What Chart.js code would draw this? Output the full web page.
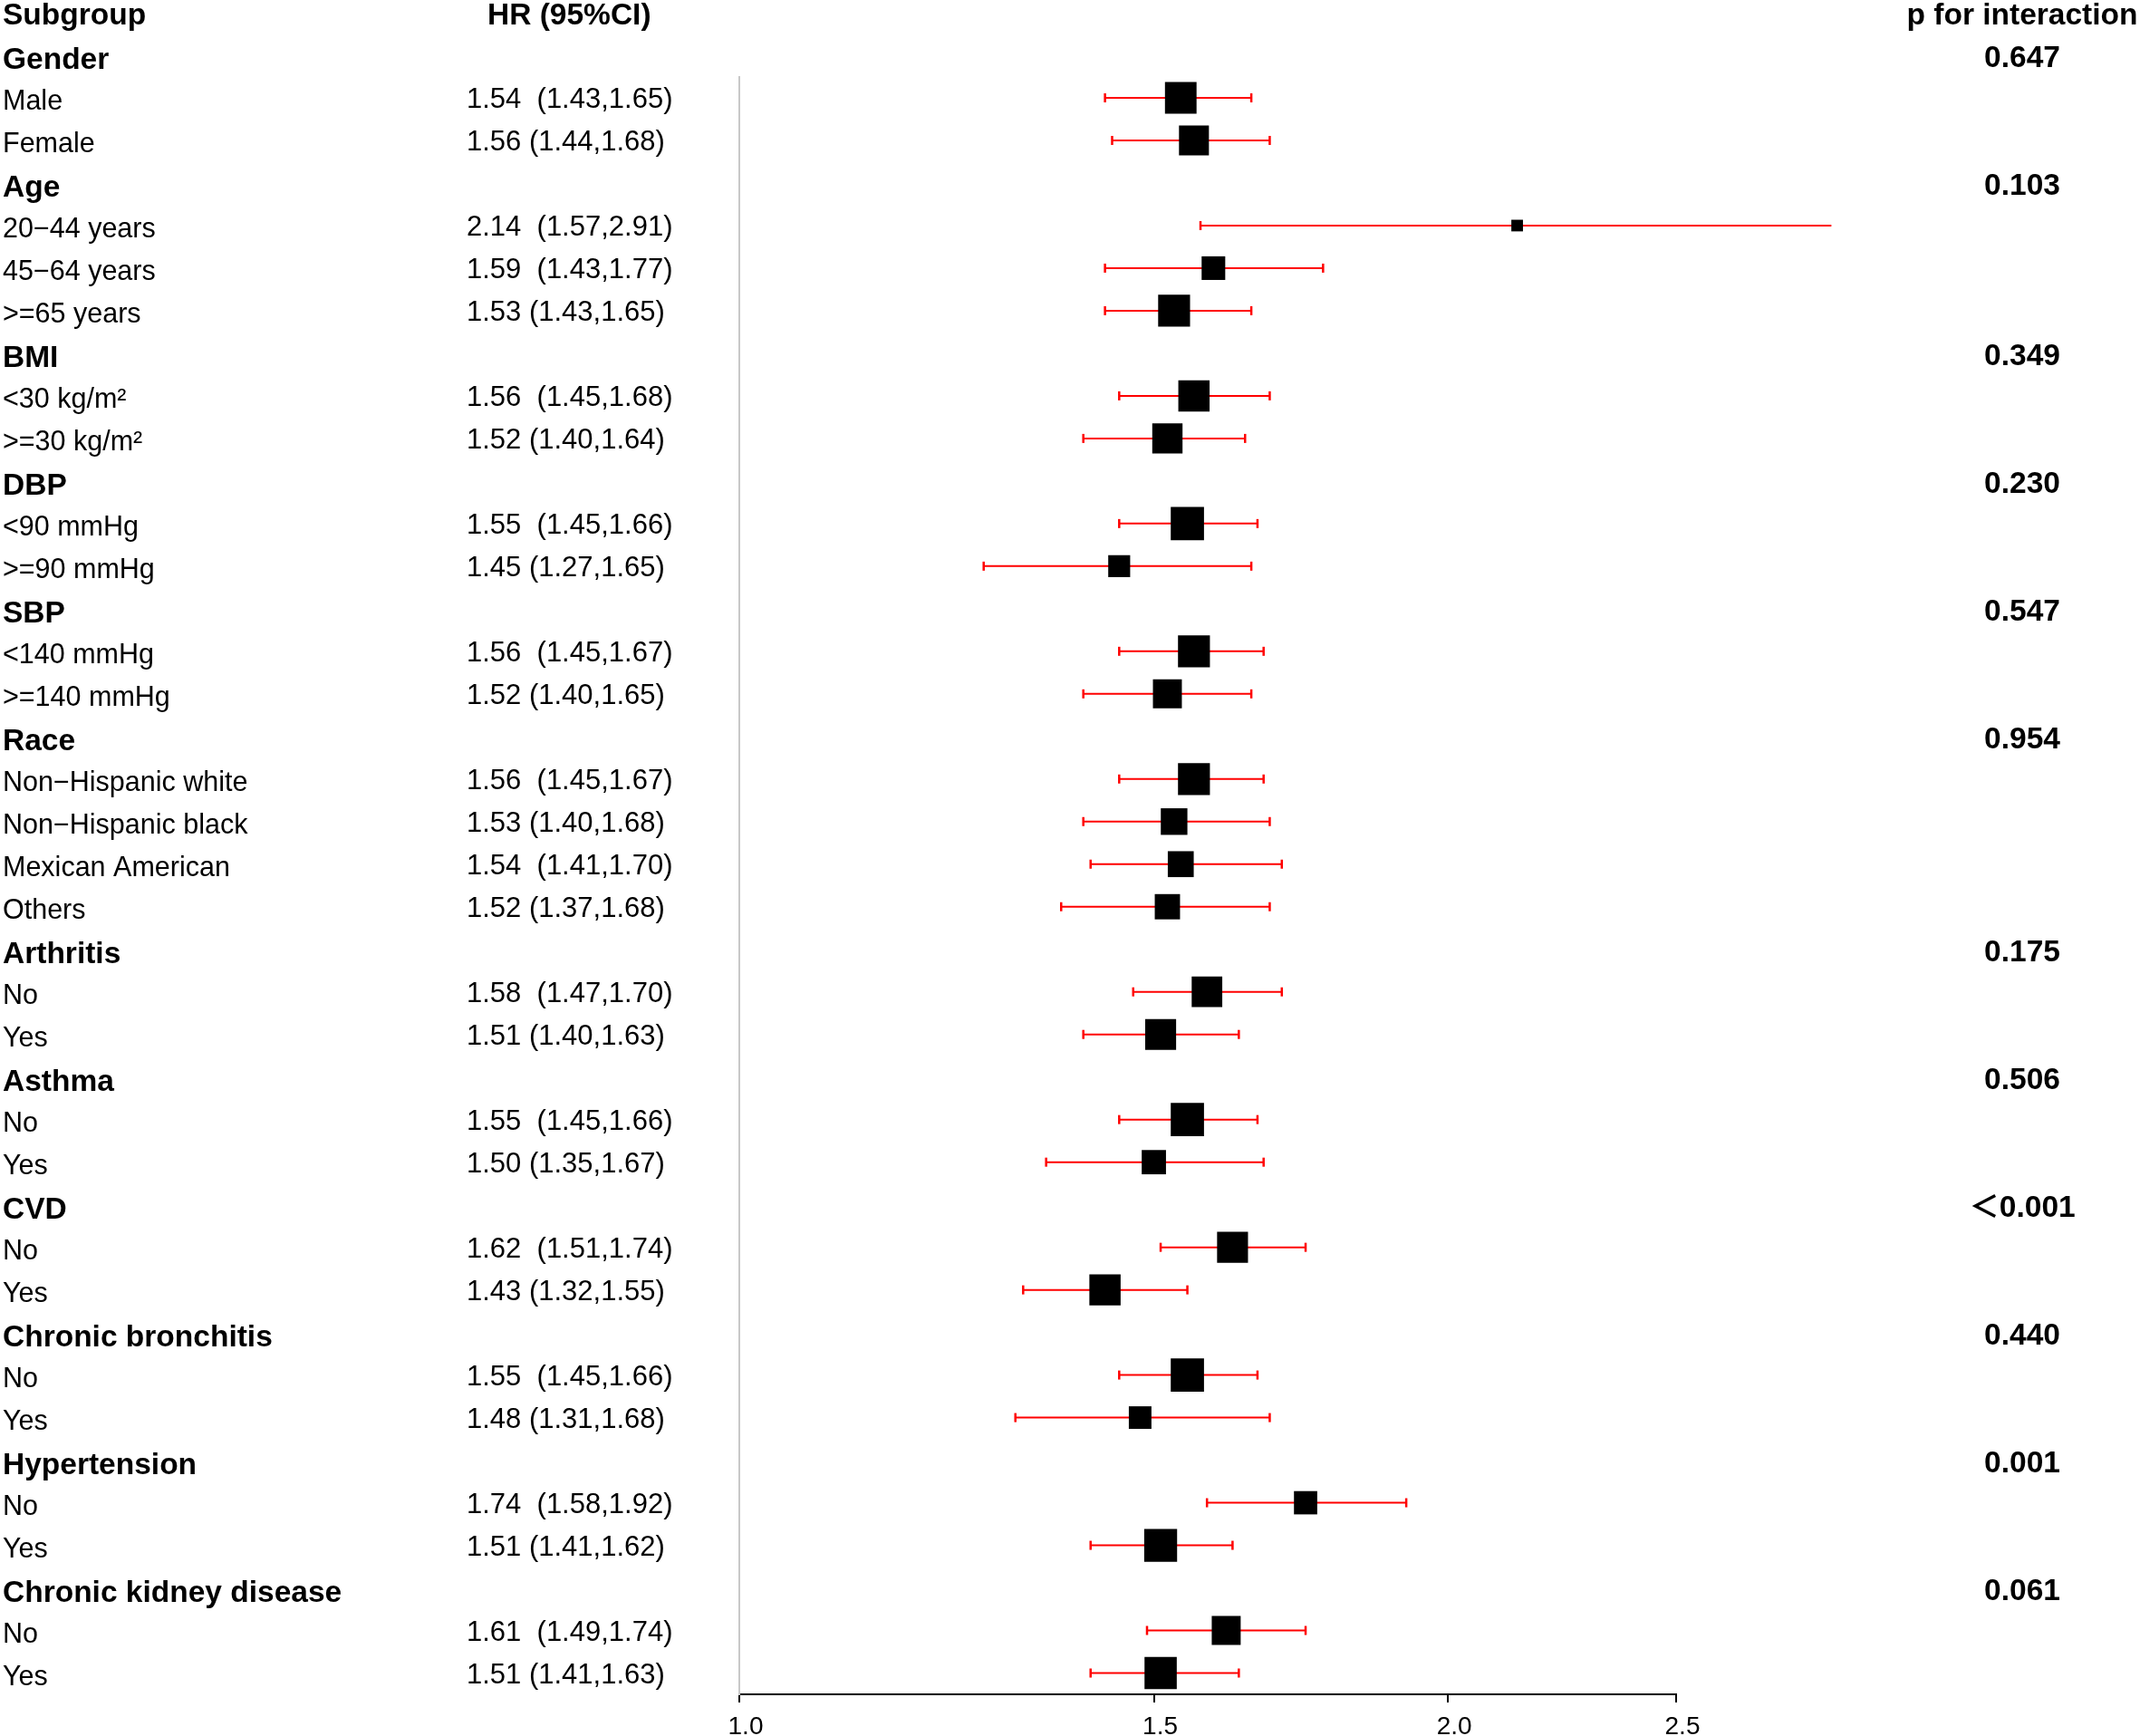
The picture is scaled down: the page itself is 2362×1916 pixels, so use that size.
<!DOCTYPE html>
<html>
<head>
<meta charset="utf-8">
<script src="https://cdn.jsdelivr.net/npm/chart.js@4.4.1/dist/chart.umd.min.js"></script>
<style>
  html, body { margin: 0; padding: 0; background: #ffffff; }
  canvas { display: block; }
</style>
</head>
<body>
<canvas id="c" width="2362" height="1916" style="width:2362px;height:1916px"></canvas>
<script>
// ---------- DATA ----------
const headerTexts = ["Subgroup", "HR (95%CI)", "p for interaction"];
const rowLabels = ["Gender","Male","Female","Age","20\u221244 years","45\u221264 years",">=65 years","BMI","<30 kg/m\u00B2",">=30 kg/m\u00B2","DBP","<90 mmHg",">=90 mmHg","SBP","<140 mmHg",">=140 mmHg","Race","Non\u2212Hispanic white","Non\u2212Hispanic black","Mexican American","Others","Arthritis","No","Yes","Asthma","No","Yes","CVD","No","Yes","Chronic bronchitis","No","Yes","Hypertension","No","Yes","Chronic kidney disease","No","Yes"];
const hr    = [null,1.54,1.56,null,2.14,1.59,1.53,null,1.56,1.52,null,1.55,1.45,null,1.56,1.52,null,1.56,1.53,1.54,1.52,null,1.58,1.51,null,1.55,1.50,null,1.62,1.43,null,1.55,1.48,null,1.74,1.51,null,1.61,1.51];
const lower = [null,1.43,1.44,null,1.57,1.43,1.43,null,1.45,1.40,null,1.45,1.27,null,1.45,1.40,null,1.45,1.40,1.41,1.37,null,1.47,1.40,null,1.45,1.35,null,1.51,1.32,null,1.45,1.31,null,1.58,1.41,null,1.49,1.41];
const upper = [null,1.65,1.68,null,2.91,1.77,1.65,null,1.68,1.64,null,1.66,1.65,null,1.67,1.65,null,1.67,1.68,1.70,1.68,null,1.70,1.63,null,1.66,1.67,null,1.74,1.55,null,1.66,1.68,null,1.92,1.62,null,1.74,1.63];
const hrText = ["","1.54  (1.43,1.65)","1.56 (1.44,1.68)","","2.14  (1.57,2.91)","1.59  (1.43,1.77)","1.53 (1.43,1.65)","","1.56  (1.45,1.68)","1.52 (1.40,1.64)","","1.55  (1.45,1.66)","1.45 (1.27,1.65)","","1.56  (1.45,1.67)","1.52 (1.40,1.65)","","1.56  (1.45,1.67)","1.53 (1.40,1.68)","1.54  (1.41,1.70)","1.52 (1.37,1.68)","","1.58  (1.47,1.70)","1.51 (1.40,1.63)","","1.55  (1.45,1.66)","1.50 (1.35,1.67)","","1.62  (1.51,1.74)","1.43 (1.32,1.55)","","1.55  (1.45,1.66)","1.48 (1.31,1.68)","","1.74  (1.58,1.92)","1.51 (1.41,1.62)","","1.61  (1.49,1.74)","1.51 (1.41,1.63)"];
const pValues = ["0.647","","","0.103","","","","0.349","","","0.230","","","0.547","","","0.954","","","","","0.175","","","0.506","","","\uFF1C0.001","","","0.440","","","0.001","","","0.061","",""];
// relative box weights
const weights = [null,0.95,0.90,null,0.35,0.71,0.96,null,0.94,0.91,null,1.00,0.66,null,0.96,0.87,null,0.96,0.80,0.78,0.76,null,0.92,0.93,null,1.00,0.73,null,0.93,0.94,null,1.00,0.68,null,0.70,0.99,null,0.87,0.97];
const xTicks = [1.0, 1.5, 2.0, 2.5];
const xTickLabels = ["1.0", "1.5", "2.0", "2.5"];

// ---------- STYLE ----------
const FONT = "'Liberation Sans', Arial, Helvetica, 'Noto Sans CJK SC', sans-serif";
const BOX_MAX = 36.7;
const RED = '#ff0000';

// ---------- BUILD DATASETS ----------
const datasets = [];
rowLabels.forEach((lab, i) => {
  if (hr[i] === null) return;
  const k = i + 1;
  datasets.push({
    type: 'scatter',
    showLine: true,
    data: [{x: lower[i], y: k}, {x: upper[i], y: k}],
    borderColor: RED,
    borderWidth: 2,
    pointStyle: 'line',
    rotation: 90,
    pointRadius: 5,
    pointBorderColor: RED,
    pointBorderWidth: 2.5,
    pointHoverRadius: 5,
    clip: false,
    order: 2
  });
});
const pts = [], radii = [];
rowLabels.forEach((lab, i) => {
  if (hr[i] === null) return;
  pts.push({x: hr[i], y: i + 1});
  radii.push(weights[i] * BOX_MAX / Math.SQRT2);
});
datasets.push({
  type: 'scatter',
  data: pts,
  pointStyle: 'rect',
  pointRadius: radii,
  pointHoverRadius: radii,
  backgroundColor: '#000000',
  pointBackgroundColor: '#000000',
  pointBorderWidth: 0,
  clip: false,
  order: 0
});

// ---------- TEXT PLUGIN ----------
const textPlugin = {
  id: 'forestText',
  afterDraw(chart) {
    const ctx = chart.ctx;
    const y = chart.scales.y;
    ctx.save();
    ctx.fillStyle = '#000000';
    ctx.textBaseline = 'alphabetic';
    // header row
    const y0 = y.getPixelForValue(0);
    ctx.font = "bold 33.5px " + FONT;
    ctx.textAlign = 'left';
    ctx.fillText(headerTexts[0], 3, y0 + 13);
    ctx.fillText(headerTexts[1], 538, y0 + 13);
    ctx.textAlign = 'center';
    ctx.fillText(headerTexts[2], 2232, y0 + 13);
    rowLabels.forEach((lab, i) => {
      const py = y.getPixelForValue(i + 1);
      const isHead = hr[i] === null;
      ctx.textAlign = 'left';
      ctx.font = (isHead ? "bold 33.5px " : "30.5px ") + FONT;
      ctx.fillText(lab, 3, py + (isHead ? 15 : 13.5));
      if (hrText[i]) {
        ctx.font = "31px " + FONT;
        ctx.fillText(hrText[i], 515, py + 11.5);
      }
      if (pValues[i]) {
        ctx.font = "bold 33.5px " + FONT;
        ctx.textAlign = 'center';
        ctx.fillText(pValues[i], 2232, py + 13);
      }
    });
    ctx.restore();
  }
};

// ---------- CHART ----------
new Chart(document.getElementById('c'), {
  type: 'scatter',
  data: { datasets },
  options: {
    responsive: false,
    animation: false,
    devicePixelRatio: 1,
    layout: { padding: { left: 816, right: 512, top: 84.5, bottom: 0 } },
    plugins: { legend: { display: false }, tooltip: { enabled: false } },
    events: [],
    scales: {
      x: {
        type: 'logarithmic',
        position: 'bottom',
        min: 1.0,
        max: 2.5,
        afterBuildTicks(scale) { scale.ticks = xTicks.map(v => ({ value: v })); },
        afterFit(scale) { scale.height = 46; },
        grid: { display: true, drawOnChartArea: false, drawTicks: true, tickLength: 9, color: '#000000', lineWidth: 2 },
        border: { display: true, color: '#000000', width: 2 },
        ticks: {
          autoSkip: false,
          maxRotation: 0,
          padding: 10,
          labelOffset: 7,
          color: '#000000',
          font: { family: FONT, size: 28 },
          callback(value, index) { return xTickLabels[index]; }
        }
      },
      y: {
        type: 'linear',
        position: 'left',
        reverse: true,
        min: 1.5,
        max: 39.5,
        afterFit(scale) { scale.width = 0; },
        grid: { display: false },
        border: { display: true, color: '#c8c8c8', width: 2 },
        ticks: { display: false }
      }
    }
  },
  plugins: [textPlugin]
});
</script>
</body>
</html>
